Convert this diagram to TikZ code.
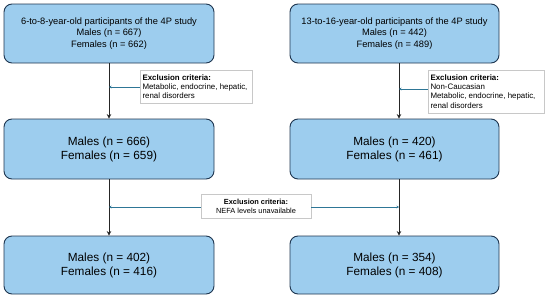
\documentclass[tikz,border=0pt]{standalone}
\usepackage{fontspec}
\setmainfont{Liberation Sans}
\usetikzlibrary{arrows.meta}
\definecolor{boxfill}{HTML}{9DCDEE}
\definecolor{boxline}{HTML}{1E3650}
\definecolor{teal}{HTML}{2E7696}
\definecolor{exline}{HTML}{C8C8C8}
\tikzset{
  mainbox/.style={draw=boxline, line width=0.9pt, fill=boxfill, rounded corners=8pt,
    align=center, inner sep=0pt},
  topbox/.style={mainbox, font=\fontsize{9.3}{11.3}\selectfont},
  midbox/.style={mainbox, font=\fontsize{11.8}{14}\selectfont},
  exbox/.style={draw=exline, line width=0.6pt, fill=white, inner sep=0pt,
    font=\fontsize{7.9}{9.3}\selectfont},
  flow/.style={draw=black!85, line width=0.9pt, -{Stealth[length=4.5pt,width=4.5pt]}},
  exarrow/.style={draw=teal, line width=0.8pt, -{Stealth[length=2.5pt,width=2.5pt]}}
}
\begin{document}
\begin{tikzpicture}[x=1pt,y=-1pt]
\useasboundingbox (0,0) rectangle (550,300);
% left column
\node[topbox, minimum width=210pt, minimum height=59pt] (L1) at (109,33.5)
  {6-to-8-year-old participants of the 4P study\\Males (n = 667)\\Females (n = 662)};
\node[midbox, minimum width=210pt, minimum height=60pt] (L2) at (109,149)
  {Males (n = 666)\\Females (n = 659)};
\node[midbox, minimum width=210pt, minimum height=58pt] (L3) at (109,265)
  {Males (n = 402)\\Females (n = 416)};
% right column
\node[topbox, minimum width=209pt, minimum height=59pt] (R1) at (394.5,33.5)
  {13-to-16-year-old participants of the 4P study\\Males (n = 442)\\Females (n = 489)};
\node[midbox, minimum width=209pt, minimum height=60pt] (R2) at (394.5,149)
  {Males (n = 420)\\Females (n = 461)};
\node[midbox, minimum width=209pt, minimum height=58pt] (R3) at (394.5,265)
  {Males (n = 354)\\Females (n = 408)};
% exclusion boxes
\node[exbox, minimum width=112pt, minimum height=33pt] (E1) at (196,86.5)
  {\begin{minipage}{107pt}\raggedright\textbf{Exclusion criteria:}\\Metabolic, endocrine, hepatic,\\renal disorders\end{minipage}};
\node[exbox, minimum width=116pt, minimum height=43pt] (E2) at (486,91.5)
  {\begin{minipage}{111pt}\raggedright\textbf{Exclusion criteria:}\\Non-Caucasian\\Metabolic, endocrine, hepatic,\\renal disorders\end{minipage}};
\node[exbox, minimum width=110pt, minimum height=24pt, align=center,
  font=\fontsize{7.4}{9}\selectfont] (E3) at (256,206)
  {\textbf{Exclusion criteria:}\\NEFA levels unavailable};
% vertical flow arrows
\draw[flow] (L1.south) -- (L2.north);
\draw[flow] (L2.south) -- (L3.north);
\draw[flow] ([xshift=4.5pt]R1.south) -- ([xshift=4.5pt]R2.north);
\draw[flow] ([xshift=4.5pt]R2.south) -- ([xshift=4.5pt]R3.north);
% exclusion arrows
\coordinate (c1) at (109,87);
\coordinate (c2) at (399,89);
\coordinate (c3) at (109,207);
\coordinate (c4) at (399,207);
\draw[exarrow] (E1.west |- c1) -- (c1);
\draw[exarrow] (E2.west |- c2) -- (c2);
\draw[exarrow] (E3.west |- c3) -- (c3);
\draw[exarrow] (E3.east |- c4) -- (c4);
\end{tikzpicture}
\end{document}
